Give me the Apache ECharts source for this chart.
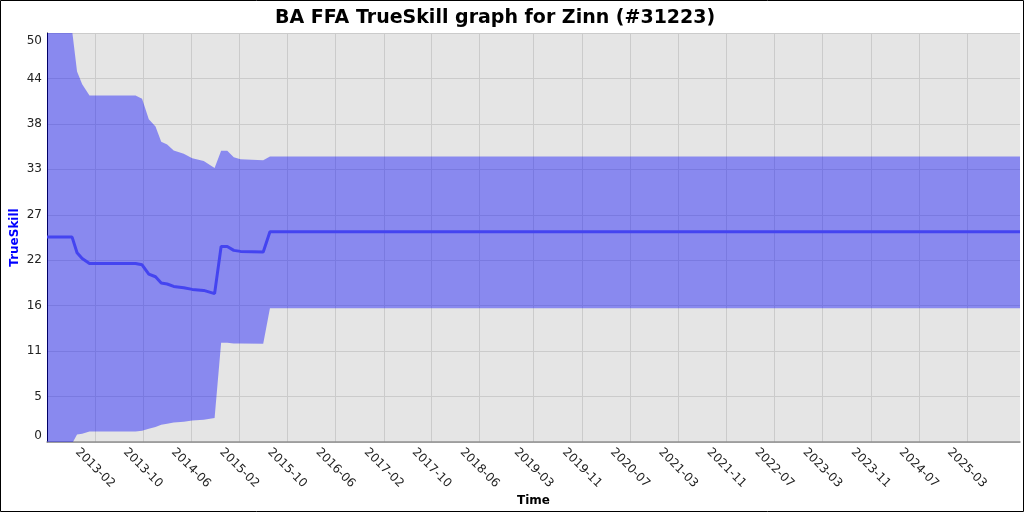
<!DOCTYPE html>
<html>
<head>
<meta charset="utf-8">
<script src="https://cdn.jsdelivr.net/npm/echarts@6/dist/echarts.min.js"></script>
<style>
html,body{margin:0;padding:0;background:#fff;}
#chart{width:1024px;height:512px;}
</style>
</head>
<body>
<div id="chart"></div>
<script>
// ---- data ----
const dates = ['2012-06-03','2012-10-08','2012-11-02','2012-11-28','2013-01-04','2013-08-25','2013-09-27','2013-10-31','2013-12-04','2014-01-02','2014-02-01','2014-03-06','2014-04-26','2014-06-08','2014-08-05','2014-09-29','2014-11-01','2014-12-02','2015-01-04','2015-02-07','2015-06-02','2015-07-06','2025-11-25'];
const meanValues  = [24.8,24.8,22.9,22.2,21.6,21.6,21.45,20.33,20.0,19.24,19.12,18.83,18.67,18.47,18.35,17.96,23.67,23.67,23.19,23.07,22.99,25.45,25.45];
const upperValues = [49.8,49.8,44.85,43.3,41.94,41.94,41.55,39.07,38.19,36.35,36.02,35.28,34.88,34.34,34.02,33.15,35.25,35.25,34.46,34.22,34.1,34.55,34.55];
const lowerValues = [-0.2,-0.2,0.92,1.0,1.28,1.28,1.37,1.6,1.81,2.1,2.2,2.37,2.46,2.61,2.7,2.9,12.0,12.0,11.93,11.93,11.9,16.2,16.2];
const xTickLabels = ['2013-02','2013-10','2014-06','2015-02','2015-10','2016-06','2017-02','2017-10','2018-06','2019-03','2019-11','2020-07','2021-03','2021-11','2022-07','2023-03','2023-11','2024-07','2025-03'];
const yTickLabels = ['0','5','11','16','22','27','33','38','44','50'];
const titleText = 'BA FFA TrueSkill graph for Zinn (#31223)';

// ---- helpers ----
function toMs(s){ const p = s.split('-').map(Number); return Date.UTC(p[0], p[1]-1, p[2] || 1); }
const xs = dates.map(toMs);
const xTickValues = xTickLabels.map(toMs);
const bandData  = xs.map((x,i)=>[x, upperValues[i], lowerValues[i]]);
const meanData  = xs.map((x,i)=>[x, meanValues[i]]);
const FONT = 'DejaVu Sans';

function renderBand(params, api){
  if (params.dataIndex !== 0) return null;
  const pts = [];
  for (let i = 0; i < xs.length; i++) pts.push(api.coord([xs[i], upperValues[i]]));
  for (let i = xs.length - 1; i >= 0; i--) pts.push(api.coord([xs[i], lowerValues[i]]));
  return {type:'polygon', shape:{points:pts}, style:{fill:'rgba(0,0,255,0.4)', stroke:'none'}, silent:true};
}

const chart = echarts.init(document.getElementById('chart'), null, {renderer:'canvas'});
chart.setOption({
  animation:false,
  backgroundColor:'#ffffff',
  title:{
    text:titleText, left:270, top:4,
    textStyle:{fontFamily:FONT, fontSize:19, fontWeight:'bold', color:'#000'}
  },
  graphic:[{type:'rect', shape:{x:0.5,y:0.5,width:1023,height:511}, style:{fill:'none', stroke:'#000', lineWidth:1}, silent:true, z:100}],
  grid:{left:47, right:4, top:33, bottom:70, show:true, backgroundColor:'#e5e5e5', borderWidth:0, containLabel:false, outerBoundsMode:'none'},
  xAxis:{
    type:'value', min:xs[0], max:xs[xs.length-1],
    name:'Time', nameLocation:'middle', nameGap:53, nameMoveOverlap:false,
    nameTextStyle:{fontFamily:FONT, fontSize:12, fontWeight:'bold', color:'#000'},
    axisLine:{show:true, onZero:false, lineStyle:{color:'#909090', width:1.5}},
    axisTick:{show:false, customValues:xTickValues},
    axisLabel:{
      customValues:xTickValues, rotate:-45, align:'center', verticalAlign:'middle', margin:26,
      fontFamily:FONT, fontSize:12, color:'#222',
      formatter:function(v){ const i = xTickValues.indexOf(v); return i>=0 ? xTickLabels[i] : ''; }
    },
    splitLine:{show:true, lineStyle:{color:'#cbcbcb', width:1}}
  },
  yAxis:{
    type:'value', min:0, max:49.5, interval:5.5,
    name:'TrueSkill', nameLocation:'middle', nameGap:32, nameRotate:90, nameMoveOverlap:false,
    nameTextStyle:{fontFamily:FONT, fontSize:12, fontWeight:'bold', color:'#0000ff', verticalAlign:'middle'},
    axisLine:{show:true, lineStyle:{color:'#000', width:1}},
    axisTick:{show:false},
    axisLabel:{
      margin:5, fontFamily:FONT, fontSize:12, color:'#222',
      formatter:function(v){
        const i = Math.round(v/5.5);
        if(i===0) return '{lo|'+yTickLabels[i]+'}';
        if(i===yTickLabels.length-1) return '{hi|'+yTickLabels[i]+'}';
        return yTickLabels[i];
      },
      rich:{
        lo:{fontFamily:FONT, fontSize:12, color:'#222', padding:[0,0,12,0]},
        hi:{fontFamily:FONT, fontSize:12, color:'#222', padding:[16,0,0,0]}
      }
    },
    splitLine:{show:true, lineStyle:{color:'#cbcbcb', width:1}}
  },
  series:[
    {type:'custom', data:bandData, encode:{x:0, y:[1,2]}, renderItem:renderBand, clip:true, silent:true, z:2},
    {type:'line', data:meanData, symbol:'none', lineStyle:{color:'#4444f0', width:3}, z:5, silent:true}
  ]
});
</script>
</body>
</html>
